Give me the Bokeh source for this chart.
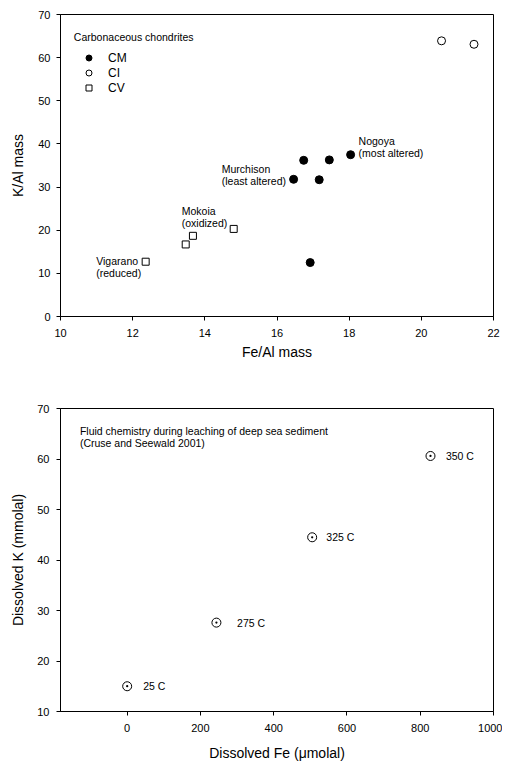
from bokeh.plotting import figure
from bokeh.models import (Range1d, Label, LabelSet, Legend, LegendItem,
                          ColumnDataSource, FixedTicker)
from bokeh.layouts import column
from bokeh.core.properties import value
from bokeh.embed import file_html
from bokeh.resources import INLINE

FONT = "Liberation Sans"

# ---- Top chart data: carbonaceous chondrites ----
cm_fe = [16.46, 16.74, 17.45, 17.17, 18.04, 16.92]
cm_k = [31.8, 36.2, 36.3, 31.7, 37.5, 12.5]
ci_fe = [20.56, 21.46]
ci_k = [63.9, 63.1]
cv_fe = [12.36, 13.47, 13.67, 14.80]
cv_k = [12.7, 16.7, 18.7, 20.3]

note_text = ["Nogoya", "(most altered)", "Murchison", "(least altered)",
             "Mokoia", "(oxidized)", "Vigarano", "(reduced)"]
note_x = [18.26, 18.26, 14.47, 14.47, 13.36, 13.36, 10.99, 10.99]
note_y = [40.6, 37.9, 34.2, 31.5, 24.4, 21.7, 12.8, 10.1]

top_x_ticks = [10, 12, 14, 16, 18, 20, 22]
top_y_ticks = [0, 10, 20, 30, 40, 50, 60, 70]

# ---- Bottom chart data: fluid chemistry ----
fluid_fe = [0, 243.6, 505, 828]
fluid_k = [15.0, 27.6, 44.5, 60.6]
fluid_temp = ["25 C", "275 C", "325 C", "350 C"]
fluid_label_x = [43.6, 300, 543.6, 870]

bot_x_ticks = [0, 200, 400, 600, 800, 1000]
bot_y_ticks = [10, 20, 30, 40, 50, 60, 70]


def style(p, xticks, yticks, xstand, ystand, xls, yls):
    p.grid.visible = False
    p.outline_line_color = "black"
    p.outline_line_width = 1
    for ax in (p.xaxis[0], p.yaxis[0]):
        ax.axis_line_color = "black"
        ax.major_tick_line_color = "black"
        ax.minor_tick_line_color = None
        ax.major_tick_in = 0
        ax.major_tick_out = 4
        ax.major_label_text_font = FONT
        ax.major_label_text_font_size = "11px"
        ax.major_label_text_color = "black"
        ax.axis_label_text_font = FONT
        ax.axis_label_text_font_size = "14px"
        ax.axis_label_text_font_style = "normal"
        ax.axis_label_text_color = "black"
    p.xaxis[0].ticker = FixedTicker(ticks=xticks)
    p.yaxis[0].ticker = FixedTicker(ticks=yticks)
    p.xaxis[0].major_label_standoff = xstand
    p.yaxis[0].major_label_standoff = ystand
    p.xaxis[0].axis_label_standoff = xls
    p.yaxis[0].axis_label_standoff = yls


# ---------------- Top figure ----------------
p1 = figure(width=502, height=378, output_backend="svg", toolbar_location=None,
            x_range=Range1d(10, 22), y_range=Range1d(0, 70),
            min_border_left=59, min_border_right=9, min_border_top=14,
            min_border_bottom=62, x_axis_label="Fe/Al mass", y_axis_label="K/Al mass")
style(p1, top_x_ticks, top_y_ticks, 8, 6, 4, 9)

r_cm = p1.scatter(cm_fe, cm_k, marker="circle", size=8, fill_color="black",
                  line_color="black")
r_ci = p1.scatter(ci_fe, ci_k, marker="circle", size=8, fill_color=None,
                  line_color="black", line_width=1)
r_cv = p1.scatter(cv_fe, cv_k, marker="square", size=7, fill_color=None,
                  line_color="black", line_width=1)

notes = ColumnDataSource(dict(x=note_x, y=note_y, t=note_text))
p1.add_layout(LabelSet(x="x", y="y", text="t", source=notes,
                       text_font=value(FONT), text_font_size="10.5px",
                       text_baseline="middle", text_align="left",
                       text_color="black"))

p1.add_layout(Label(x=10.37, y=64.7, text="Carbonaceous chondrites",
                    text_font=FONT, text_font_size="10.5px",
                    text_baseline="middle", text_color="black"))

legend = Legend(items=[LegendItem(label="CM", renderers=[r_cm]),
                       LegendItem(label="CI", renderers=[r_ci]),
                       LegendItem(label="CV", renderers=[r_cv])],
                location=(21, 221), padding=0, margin=0,
                border_line_color=None, background_fill_alpha=0,
                glyph_width=15, glyph_height=15, label_height=15,
                spacing=0, label_standoff=12,
                label_text_font=FONT, label_text_font_size="12px",
                label_text_color="black")
p1.add_layout(legend)

# ---------------- Bottom figure ----------------
p2 = figure(width=502, height=386, output_backend="svg", toolbar_location=None,
            x_range=Range1d(-182, 1000), y_range=Range1d(10, 70),
            min_border_left=60, min_border_right=9, min_border_top=30,
            min_border_bottom=53, x_axis_label="Dissolved Fe (\u03bcmolal)",
            y_axis_label="Dissolved K (mmolal)")
style(p2, bot_x_ticks, bot_y_ticks, 8, 7, 10, 8)

p2.scatter(fluid_fe, fluid_k, marker="circle_dot", size=9, fill_color=None,
           line_color="black", line_width=1)
temps = ColumnDataSource(dict(x=fluid_label_x, y=fluid_k, t=fluid_temp))
p2.add_layout(LabelSet(x="x", y="y", text="t", source=temps,
                       text_font=value(FONT), text_font_size="10.5px",
                       text_baseline="middle", text_align="left",
                       text_color="black"))
p2.add_layout(Label(x=-129, y=65.5,
                    text="Fluid chemistry during leaching of deep sea sediment",
                    text_font=FONT, text_font_size="10.5px",
                    text_baseline="middle", text_color="black"))
p2.add_layout(Label(x=-129, y=63.26, text="(Cruse and Seewald 2001)",
                    text_font=FONT, text_font_size="10.5px",
                    text_baseline="middle", text_color="black"))

layout = column(p1, p2, spacing=0)
open("out.html", "w").write(file_html(layout, INLINE))
